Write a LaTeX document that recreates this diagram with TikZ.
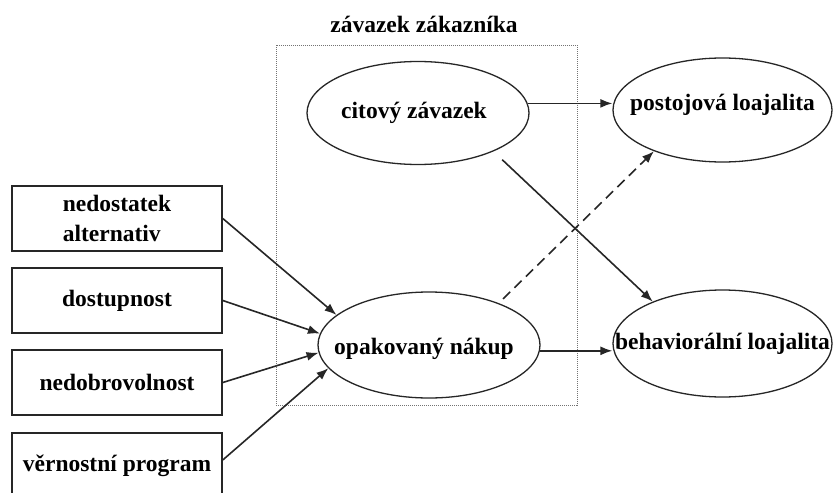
\documentclass[tikz,border=0pt]{standalone}
\usepackage{fontspec}
\setmainfont{Liberation Serif}
\usetikzlibrary{arrows.meta,shapes.geometric}
\begin{document}
\begin{tikzpicture}[x=1pt,y=-1pt,
  every node/.style={font=\bfseries\fontsize{23.5}{30}\selectfont},
  box/.style={draw=black!85,line width=1.6pt,minimum width=210pt,minimum height=65pt,inner sep=0pt,align=left},
  oval/.style={ellipse,draw=black!85,line width=1.3pt,inner sep=0pt},
  arr/.style={draw=black!85,line width=1.6pt,-{Latex[length=12pt,width=9pt]}},
  group/.style={draw=black!55,line width=0.8pt,dash pattern=on 1pt off 1pt,inner sep=0pt}]
\clip (0,0) rectangle (834,492);
\fill[white] (0,0) rectangle (834,492);

% customer commitment group
\node[anchor=base] (title) at (424,33) {závazek zákazníka};
\node[group,minimum width=301pt,minimum height=360pt] (grp) at (426.5,225) {};

% ovals
\node[oval,minimum width=222pt,minimum height=103pt,
  label={[xshift=-4pt]center:citový závazek}] (cit) at (418,113) {};
\node[oval,minimum width=222pt,minimum height=106pt,
  label={[xshift=-5pt,yshift=-3.5pt]center:opakovaný nákup}] (op) at (429,345) {};
\node[oval,minimum width=219pt,minimum height=104pt,
  label={[yshift=5.5pt]center:postojová loajalita}] (post) at (722.5,110) {};
\node[oval,minimum width=219pt,minimum height=107pt,
  label={center:behaviorální loajalita}] (beh) at (722.5,343.5) {};

% antecedents
\node[box] (b1) at (117,218.5) {nedostatek\\alternativ};
\node[box] (b2) at (117,300.5) {dostupnost};
\node[box] (b3) at (117,382.5) {nedobrovolnost};
\node[box] (b4) at (117,465.5) {věrnostní program};

% connectors
\draw[arr] (b1.east) -- (op.162);
\draw[arr] (b2.east) -- (op.174);
\draw[arr] (b3.east) -- (op.184);
\draw[arr] (b4.3) -- (op.193);
\draw[arr] (cit.5) -- (cit.5 -| post.west);
\draw[arr,shorten <=12pt] (cit.-27) -- (beh.149);
\draw[arr,dash pattern=on 10pt off 6pt,shorten <=6pt] (op.31) -- (post.211);
\draw[arr] (op.-3) -- (op.-3 -| beh.west);
\end{tikzpicture}
\end{document}
